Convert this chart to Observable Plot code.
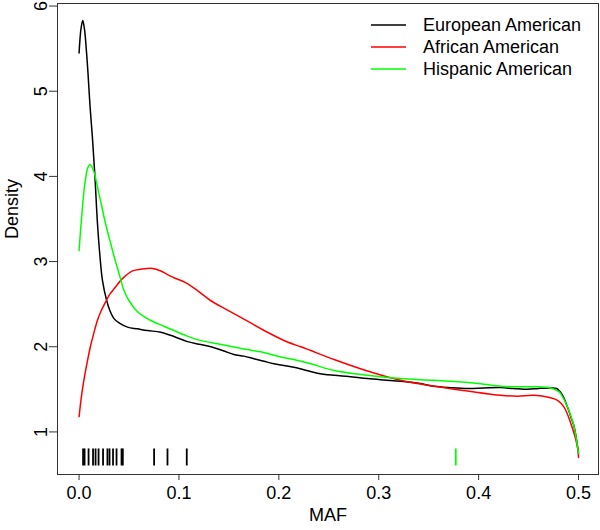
<!DOCTYPE html>
<html><head><meta charset="utf-8">
<script src="https://cdn.jsdelivr.net/npm/d3@7"></script>
<script src="https://cdn.jsdelivr.net/npm/@observablehq/plot@0.6"></script>
<style>
body{margin:0;background:#fff;font-family:"Liberation Sans",Arial,sans-serif}
#wrap{position:relative;width:600px;height:530px}
#legend{position:absolute;left:371px;top:14px;font-size:18px;color:#000;line-height:22px}
#legend .row{display:flex;align-items:center;height:22px}
#legend svg{margin-right:17px}
</style></head><body><div id="wrap"></div><script>
// Series names and colours
const seriesNames = ["European American", "African American", "Hispanic American"];
const seriesColors = ["#000000", "#ff0000", "#00ff00"];

// European American density
const euX = [0, 0.002, 0.0037, 0.0055, 0.0075, 0.009, 0.011, 0.0134, 0.016, 0.0184, 0.021, 0.0234, 0.0277, 0.031, 0.035, 0.040, 0.0485, 0.0585, 0.0685, 0.0818, 0.095, 0.1085, 0.12, 0.132, 0.145, 0.155, 0.165, 0.175, 0.185, 0.195, 0.205, 0.215, 0.225, 0.2387, 0.2553, 0.27, 0.2887, 0.305, 0.322, 0.34, 0.3555, 0.372, 0.389, 0.405, 0.422, 0.435, 0.449, 0.46, 0.472, 0.478, 0.4835, 0.489, 0.4925, 0.4956, 0.5];
const euY = [5.45, 5.74, 5.83, 5.72, 5.45, 5.20, 4.82, 4.45, 3.97, 3.45, 3.05, 2.78, 2.54, 2.42, 2.33, 2.28, 2.23, 2.21, 2.19, 2.17, 2.12, 2.06, 2.03, 2.00, 1.95, 1.91, 1.89, 1.86, 1.83, 1.80, 1.78, 1.76, 1.73, 1.69, 1.665, 1.65, 1.626, 1.61, 1.595, 1.57, 1.536, 1.52, 1.51, 1.515, 1.52, 1.51, 1.50, 1.51, 1.516, 1.51, 1.44, 1.29, 1.17, 1.06, 0.75];

// African American density
const afX = [0, 0.0025, 0.005, 0.0085, 0.0117, 0.015, 0.0184, 0.022, 0.0267, 0.031, 0.035, 0.0434, 0.0535, 0.0618, 0.0735, 0.0818, 0.088, 0.095, 0.107, 0.1185, 0.132, 0.1486, 0.1686, 0.1886, 0.2086, 0.222, 0.232, 0.2553, 0.2887, 0.322, 0.3555, 0.389, 0.422, 0.439, 0.4555, 0.472, 0.479, 0.4855, 0.4923, 0.499, 0.5];
const afY = [1.18, 1.43, 1.62, 1.84, 2.02, 2.17, 2.31, 2.42, 2.53, 2.62, 2.68, 2.80, 2.89, 2.91, 2.92, 2.89, 2.85, 2.81, 2.75, 2.66, 2.54, 2.43, 2.30, 2.17, 2.055, 2.0, 1.955, 1.85, 1.715, 1.606, 1.536, 1.48, 1.43, 1.42, 1.43, 1.40, 1.37, 1.29, 1.10, 0.82, 0.70];

// Hispanic American density
const hiX = [0, 0.0017, 0.0034, 0.005, 0.0067, 0.0087, 0.0107, 0.013, 0.015, 0.0175, 0.020, 0.0225, 0.025, 0.0285, 0.0317, 0.036, 0.040, 0.045, 0.050, 0.0585, 0.067, 0.075, 0.085, 0.095, 0.105, 0.115, 0.127, 0.1385, 0.15, 0.162, 0.172, 0.182, 0.192, 0.202, 0.215, 0.232, 0.2553, 0.2887, 0.322, 0.3555, 0.389, 0.405, 0.422, 0.44, 0.4555, 0.472, 0.4806, 0.485, 0.489, 0.4925, 0.4956, 0.5];
const hiY = [3.13, 3.40, 3.64, 3.84, 3.99, 4.10, 4.14, 4.11, 4.05, 3.93, 3.79, 3.66, 3.52, 3.35, 3.21, 3.02, 2.86, 2.66, 2.54, 2.41, 2.34, 2.29, 2.24, 2.19, 2.14, 2.095, 2.06, 2.036, 2.01, 1.98, 1.96, 1.94, 1.91, 1.88, 1.85, 1.80, 1.72, 1.665, 1.626, 1.606, 1.58, 1.56, 1.536, 1.53, 1.53, 1.516, 1.47, 1.39, 1.29, 1.18, 1.06, 0.75];

// Rug values
const rugBlack = [0.004, 0.0055, 0.0095, 0.014, 0.0165, 0.0195, 0.024, 0.0284, 0.0305, 0.034, 0.0375, 0.0425, 0.0438, 0.0751, 0.0885, 0.1078];
const rugGreen = [0.3771];
const rugLow = 0.6, rugHigh = 0.8;

// Axes
const xTicks = [0, 0.1, 0.2, 0.3, 0.4, 0.5];
const yTicks = [1, 2, 3, 4, 5, 6];
const xLabel = "MAF", yLabel = "Density";

const table = [];
[[euX, euY], [afX, afY], [hiX, hiY]].forEach(([xs, ys], i) => {
  xs.forEach((x, j) => table.push({series: seriesNames[i], x, y: ys[j]}));
});
const rugTable = [
  ...rugBlack.map(x => ({x, series: seriesNames[0]})),
  ...rugGreen.map(x => ({x, series: seriesNames[2]}))
];

const chart = Plot.plot({
  width: 600, height: 530,
  marginLeft: 57, marginRight: 2, marginTop: 3, marginBottom: 56,
  style: {fontFamily: "'Liberation Sans', Arial, sans-serif", fontSize: "18px", background: "#fff"},
  x: {domain: [-0.0216, 0.520]},
  y: {domain: [0.50, 6.03]},
  color: {domain: seriesNames, range: seriesColors},
  marks: [
    Plot.axisX({ticks: xTicks, tickFormat: d3.format(".1f"), tickSize: 6, tickPadding: 6, fontSize: 18, label: null, stroke: "#333"}),
    Plot.axisY({ticks: yTicks, tickFormat: d3.format("d"), tickSize: 8, tickRotate: -90, tickPadding: 3, fontSize: 18, label: null, stroke: "#333"}),
    Plot.ruleX(rugTable, {x: "x", y1: rugLow, y2: rugHigh, stroke: "series", strokeWidth: 1.8}),
    Plot.line(table, {x: "x", y: "y", z: "series", stroke: "series", strokeWidth: 1.5, curve: "catmull-rom"}),
    Plot.frame({stroke: "#333", strokeWidth: 1}),
    Plot.text([xLabel], {frameAnchor: "bottom", dy: 46, fontSize: 18, fill: "#000"}),
    Plot.text([yLabel], {frameAnchor: "left", dx: -45, rotate: -90, fontSize: 18, fill: "#000"})
  ]
});
const wrap = document.getElementById("wrap");
wrap.appendChild(chart);
const legend = document.createElement("div");
legend.id = "legend";
const ns = "http://www.w3.org/2000/svg";
seriesNames.forEach((name, i) => {
  const row = document.createElement("div");
  row.className = "row";
  const svg = document.createElementNS(ns, "svg");
  svg.setAttribute("width", "35");
  svg.setAttribute("height", "4");
  const ln = document.createElementNS(ns, "line");
  ln.setAttribute("x1", "0"); ln.setAttribute("x2", "35");
  ln.setAttribute("y1", "2"); ln.setAttribute("y2", "2");
  ln.setAttribute("stroke", seriesColors[i]);
  ln.setAttribute("stroke-width", "1.5");
  svg.appendChild(ln);
  row.appendChild(svg);
  row.appendChild(document.createTextNode(name));
  legend.appendChild(row);
});
wrap.appendChild(legend);
</script></body></html>
